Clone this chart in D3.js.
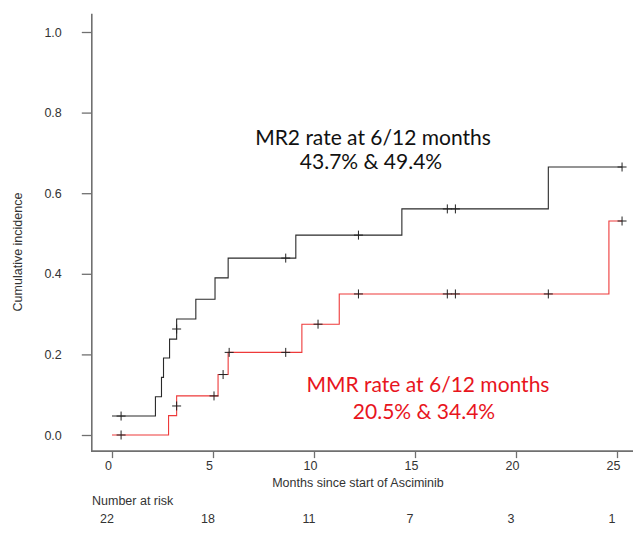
<!DOCTYPE html>
<html>
<head>
<meta charset="utf-8">
<script src="https://cdn.jsdelivr.net/npm/d3@7"></script>
<style>
    body { margin: 0; background: #fff; }
    .tick-text { font-family: "Liberation Sans", Arial, sans-serif; font-size: 12.5px; fill: #333; }
    .note { font-family: Lato, "Open Sans", sans-serif; font-size: 21px; }
</style>
</head>
<body>
<svg></svg>
<script>
'use strict';

// MR2 curve (step values after each time)
var mr2Times = [0, 2.15, 2.45, 2.55, 2.85, 3.2, 4.15, 5.1, 5.75, 9.1, 14.35, 21.6, 25.25];
var mr2Values = [0.047, 0.095, 0.143, 0.191, 0.238, 0.288, 0.337, 0.39, 0.439, 0.496, 0.561, 0.665, 0.665];
var mr2CensorTimes = [0.45, 3.2, 8.6, 12.2, 16.6, 17.0, 25.25];
var mr2CensorValues = [0.047, 0.263, 0.439, 0.496, 0.561, 0.561, 0.665];

// MMR curve
var mmrTimes = [0, 2.8, 3.2, 5.25, 5.75, 9.4, 11.25, 24.6, 25.25];
var mmrValues = [0, 0.048, 0.097, 0.15, 0.205, 0.275, 0.35, 0.531, 0.531];
var mmrCensorTimes = [0.45, 3.2, 5.05, 5.5, 5.8, 8.6, 10.2, 12.2, 16.6, 17.0, 21.6, 25.25];
var mmrCensorValues = [0, 0.072, 0.097, 0.15, 0.205, 0.205, 0.275, 0.35, 0.35, 0.35, 0.35, 0.531];

var xTicks = [0, 5, 10, 15, 20, 25];
var yTicks = [0, 0.2, 0.4, 0.6, 0.8, 1.0];
var atRisk = [22, 18, 11, 7, 3, 1];

var width = 633;
var height = 539;

var x = d3.scaleLinear().domain([0, 25]).range([112, 617]);
var y = d3.scaleLinear().domain([0, 1]).range([435, 32]);

// axis lines sit 4% outside the data range
var axisLeftX = x(-1);
var axisBottomY = y(-0.04);

var svg = d3.select('svg')
    .attr('width', width)
    .attr('height', height);

// L-shaped frame
svg.append('path')
    .attr('d', 'M' + axisLeftX + ',' + y(1.045) + 'V' + axisBottomY + 'H' + width)
    .attr('fill', 'none')
    .attr('stroke', '#707070')
    .attr('stroke-width', 1.6);

// y axis
var yAxis = svg.append('g')
    .attr('transform', 'translate(' + axisLeftX + ',0)')
    .call(d3.axisLeft(y).tickValues(yTicks).tickFormat(d3.format('.1f')).tickSize(10).tickPadding(20));
yAxis.select('.domain').remove();
yAxis.selectAll('line').attr('stroke', '#707070').attr('stroke-width', 1.3);
yAxis.selectAll('text').attr('class', 'tick-text');

// x axis
var xAxis = svg.append('g')
    .attr('transform', 'translate(0,' + axisBottomY + ')')
    .call(d3.axisBottom(x).tickValues(xTicks).tickSize(7).tickPadding(3));
xAxis.select('.domain').remove();
xAxis.selectAll('line').attr('stroke', '#707070').attr('stroke-width', 1.3);
xAxis.selectAll('text').attr('class', 'tick-text').attr('x', -4);

// axis titles
svg.append('text')
    .attr('class', 'tick-text')
    .attr('transform', 'translate(22,252) rotate(-90)')
    .attr('text-anchor', 'middle')
    .text('Cumulative incidence');

svg.append('text')
    .attr('class', 'tick-text')
    .attr('x', 358)
    .attr('y', 487)
    .attr('text-anchor', 'middle')
    .text('Months since start of Asciminib');

// number at risk
svg.append('text')
    .attr('class', 'tick-text')
    .attr('x', 92)
    .attr('y', 505)
    .text('Number at risk');

svg.append('g')
    .selectAll('text')
    .data(atRisk)
    .enter()
        .append('text')
        .attr('class', 'tick-text')
        .attr('text-anchor', 'middle')
        .attr('x', function (d, i) { return x(xTicks[i]) - 5; })
        .attr('y', 523)
        .text(function (d) { return d; });

// step curves
var step = d3.line()
    .x(function (d) { return x(d[0]); })
    .y(function (d) { return y(d[1]); })
    .curve(d3.curveStepAfter);

function drawCurve(times, values, colour) {
    svg.append('path')
        .datum(d3.zip(times, values))
        .attr('d', step)
        .attr('fill', 'none')
        .attr('stroke', colour)
        .attr('stroke-width', 1.1);
}

function drawCensors(times, values) {
    svg.append('g')
        .selectAll('path')
        .data(d3.zip(times, values))
        .enter()
            .append('path')
            .attr('d', function (d) {
                var cx = x(d[0]), cy = y(d[1]);
                return 'M' + (cx - 4.5) + ',' + cy + 'H' + (cx + 4.5) + 'M' + cx + ',' + (cy - 4.5) + 'V' + (cy + 4.5);
            })
            .attr('stroke', '#222')
            .attr('stroke-width', 1);
}

drawCurve(mr2Times, mr2Values, '#2a2a2a');
drawCurve(mmrTimes, mmrValues, '#ee3a3a');
drawCensors(mr2CensorTimes, mr2CensorValues);
drawCensors(mmrCensorTimes, mmrCensorValues);

// annotations
var notes = svg.append('g').attr('class', 'note').attr('text-anchor', 'middle');
notes.append('text').attr('x', 373).attr('y', 145).attr('fill', '#111').text('MR2 rate at 6/12 months');
notes.append('text').attr('x', 371).attr('y', 169).attr('fill', '#111').text('43.7% & 49.4%');
notes.append('text').attr('x', 428).attr('y', 392).attr('fill', '#e8151d').text('MMR rate at 6/12 months');
notes.append('text').attr('x', 424).attr('y', 419).attr('fill', '#e8151d').text('20.5% & 34.4%');
</script>
</body>
</html>
